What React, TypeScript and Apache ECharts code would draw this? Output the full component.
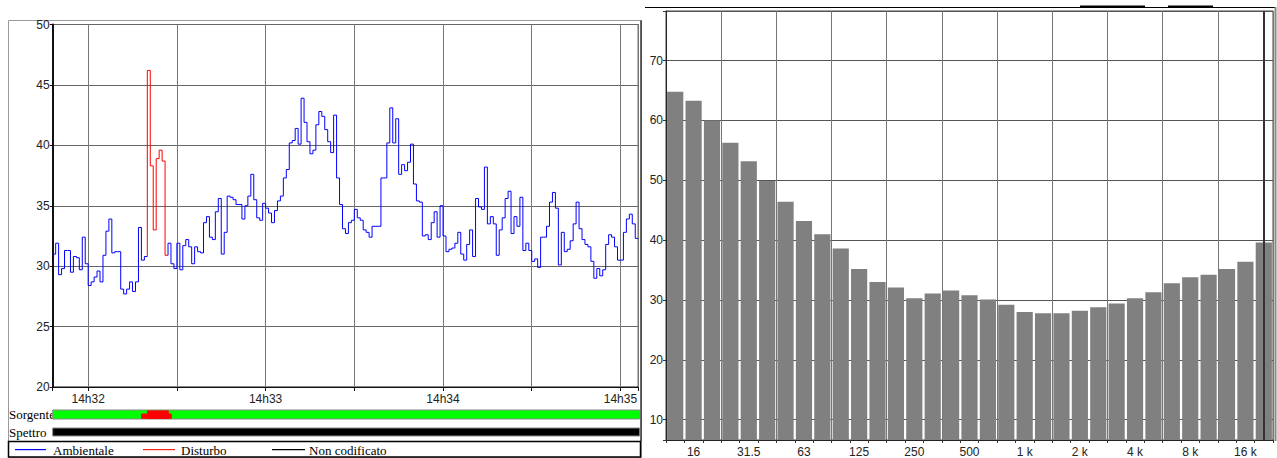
import React, { useEffect, useRef } from 'react';
import * as echarts from 'echarts';

// Time axis: seconds since 14:30:00 (one sample per second)
const START_SEC = 108; // 14:31:48
const END_SEC = 306;   // 14:35:06

// Ambient level, one value per second from 14:31:48 (null = coded as disturbance)
const ambientale: (number | null)[] = [
  31.0, 31.9, 29.3, 29.8, 31.3, 31.3, 29.5, 30.8, 30.7, 29.7,
  32.4, 30.2, 28.4, 28.7, 29.1, 29.6, 28.7, 30.9, 32.9, 33.9,
  31.1, 31.2, 31.2, 28.1, 27.7, 28.1, 28.7, 27.9, 28.7, 33.2,
  30.5, 30.8, null, null, null, null, null, null, null, 31.9,
  30.2, 29.8, 31.9, 29.7, 31.7, 32.2, 31.6, 30.2, 31.6, 31.2,
  31.1, 33.6, 34.1, 32.4, 32.2, 34.5, 35.6, 31.0, 32.8, 35.8,
  35.7, 35.5, 35.1, 35.1, 33.9, 35.0, 35.8, 37.6, 35.5, 34.0,
  33.8, 35.2, 34.8, 34.4, 33.6, 34.6, 35.4, 35.8, 37.3, 38.0,
  40.2, 40.4, 41.4, 40.1, 43.9, 41.9, 40.3, 39.3, 39.6, 41.7,
  42.8, 42.4, 41.3, 40.3, 39.4, 42.5, 37.3, 35.1, 33.1, 32.7,
  33.6, 33.8, 34.7, 34.0, 33.8, 33.0, 32.8, 32.4, 33.3, 33.3,
  33.3, 37.3, 37.3, 40.2, 43.1, 40.2, 42.2, 37.6, 38.4, 37.9,
  38.6, 40.1, 36.8, 35.4, 35.3, 32.5, 32.6, 32.2, 33.6, 34.5,
  32.4, 35.0, 32.5, 31.2, 31.4, 31.5, 31.9, 32.8, 31.0, 30.5,
  31.8, 33.0, 30.8, 35.6, 34.9, 34.7, 38.2, 33.5, 34.1, 33.5,
  30.9, 33.0, 34.0, 35.6, 36.2, 32.7, 34.1, 33.3, 35.7, 31.3,
  31.9, 31.3, 30.4, 30.6, 29.9, 32.4, 32.4, 33.3, 35.3, 36.1,
  34.8, 30.1, 32.8, 31.2, 31.4, 32.1, 33.5, 35.3, 33.1, 32.2,
  31.8, 31.6, 30.4, 29.0, 29.8, 29.2, 29.7, 31.8, 32.6, 32.4,
  31.6, 30.5, 30.5, 32.8, 33.9, 34.3, 33.5, 32.3,
];

// Disturbance level, one value per second, starting at sample index disturboStart
const disturboStart = 32;
const disturbo: number[] = [46.2, 38.3, 33.0, 38.9, 39.6, 38.7, 30.9];

// Source coding band: [start sec, end sec, code] (0 ambient, 1 disturbance low, 2 disturbance high)
const sorgente: number[][] = [
  [108, 306, 0],
  [138, 148, 1],
  [140, 147, 2],
];
// Spectrum band: [start sec, end sec]
const spettroBand: number[][] = [[108, 306]];

// 1/3 octave spectrum
const bands: string[] = [
  '12.5', '16', '20', '25', '31.5', '40', '50', '63', '80', '100', '125',
  '160', '200', '250', '315', '400', '500', '630', '800', '1 k', '1.25 k',
  '1.6 k', '2 k', '2.5 k', '3.15 k', '4 k', '5 k', '6.3 k', '8 k', '10 k',
  '12.5 k', '16 k', '20 k',
];
const spectrum: number[] = [
  64.8, 63.3, 60.0, 56.3, 53.2, 49.9, 46.4, 43.2, 41.0, 38.6, 35.2,
  33.0, 32.1, 30.3, 31.1, 31.6, 30.8, 30.1, 29.2, 28.0, 27.8,
  27.8, 28.2, 28.8, 29.4, 30.3, 31.3, 32.8, 33.8, 34.2, 35.2,
  36.4, 39.6,
];
const cursorBand = '20 k';

const SANS = '"Liberation Sans", Arial, sans-serif';
const SERIF = '"Liberation Serif", "Times New Roman", serif';

// Split ambient samples into contiguous runs, each a step polyline
function buildAmbientRuns(): number[][][] {
  const runs: number[][][] = [];
  let k = 0;
  while (k < ambientale.length) {
    if (ambientale[k] == null) { k++; continue; }
    const k0 = k;
    const pts: number[][] = [];
    const prevIdx = k0 - 1 - disturboStart;
    if (k0 > 0 && prevIdx >= 0 && prevIdx < disturbo.length) {
      pts.push([START_SEC + k0, disturbo[prevIdx]]);
    }
    let last = ambientale[k] as number;
    while (k < ambientale.length && ambientale[k] != null) {
      last = ambientale[k] as number;
      pts.push([START_SEC + k, last]);
      k++;
    }
    pts.push([START_SEC + k, last]);
    runs.push(pts);
  }
  return runs;
}

function buildDisturbo(): number[][] {
  const pts: number[][] = [];
  const prev = ambientale[disturboStart - 1];
  if (prev != null) pts.push([START_SEC + disturboStart, prev]);
  disturbo.forEach((v, i) => pts.push([START_SEC + disturboStart + i, v]));
  pts.push([START_SEC + disturboStart + disturbo.length, disturbo[disturbo.length - 1]]);
  return pts;
}

const sorgenteLayers: Record<number, { y0: number; y1: number; fill: string; stroke: string }> = {
  0: { y0: 0, y1: 1, fill: '#00ff00', stroke: '#8a8a8a' },
  1: { y0: 0.08, y1: 0.55, fill: '#ff0000', stroke: '#ff0000' },
  2: { y0: 0.08, y1: 0.9, fill: '#ff0000', stroke: '#ff0000' },
};

export default function App() {
  const ref = useRef<HTMLDivElement>(null);
  useEffect(() => {
    if (!ref.current) return;
    const chart = echarts.init(ref.current, undefined, { renderer: 'svg' });
    const ambientSeries = buildAmbientRuns().map((pts) => ({
      name: 'Ambientale', type: 'line', xAxisIndex: 0, yAxisIndex: 0, step: 'end',
      showSymbol: false, symbol: 'none', z: 3,
      lineStyle: { color: '#0000ff', width: 1 },
      data: pts,
    }));
    const option: any = {
      animation: false,
      backgroundColor: '#ffffff',
      grid: [
        { left: 52.7, top: 24.5, width: 585.5, height: 362.5, show: true, borderColor: '#111', borderWidth: 1 },
        { left: 666, top: 11, width: 607, height: 429, show: true, borderColor: '#444', borderWidth: 1 },
        { left: 52.7, top: 410, width: 587, height: 9 },
        { left: 52.7, top: 428, width: 587, height: 8 },
      ],
      xAxis: [
        {
          type: 'value', gridIndex: 0, min: START_SEC, max: END_SEC, splitNumber: 7,
          axisLine: { show: true, lineStyle: { color: '#111', width: 1 } },
          axisTick: { show: true, length: 4, lineStyle: { color: '#111' } },
          axisLabel: {
            color: '#222', fontSize: 12, fontFamily: SANS, margin: 6,
            formatter: (v: number) => (Math.abs(v % 60) < 1e-6 ? `14h${30 + Math.round(v / 60)}` : ''),
          },
          splitLine: { show: true, lineStyle: { color: '#777', width: 1 } },
        },
        {
          type: 'category', gridIndex: 1, data: bands, boundaryGap: true,
          axisLine: { show: true, lineStyle: { color: '#222', width: 1 } },
          axisTick: { show: true, length: 3, interval: 0, lineStyle: { color: '#333' } },
          axisLabel: {
            color: '#222', fontSize: 12, fontFamily: SANS, margin: 6,
            interval: (i: number) => i % 3 === 1,
          },
          splitLine: {
            show: true, interval: (i: number) => i % 3 === 0 && i > 0,
            lineStyle: { color: '#777', width: 1 },
          },
        },
        { type: 'value', gridIndex: 2, min: START_SEC, max: END_SEC, show: false },
        { type: 'value', gridIndex: 3, min: START_SEC, max: END_SEC, show: false },
      ],
      yAxis: [
        {
          type: 'value', gridIndex: 0, min: 20, max: 50, interval: 5,
          axisLine: { show: true, lineStyle: { color: '#111', width: 2 } },
          axisTick: { show: true, length: 3, lineStyle: { color: '#111' } },
          axisLabel: { color: '#222', fontSize: 12, fontFamily: SANS, margin: 3 },
          splitLine: { show: true, lineStyle: { color: '#666', width: 1 } },
        },
        {
          type: 'value', gridIndex: 1, min: 6.6, max: 78.3, splitNumber: 7,
          axisLine: { show: true, lineStyle: { color: '#222', width: 1 } },
          axisTick: { show: true, length: 3, lineStyle: { color: '#333' } },
          axisLabel: {
            color: '#222', fontSize: 12, fontFamily: SANS, margin: 3,
            formatter: (v: number) => (Math.abs(v - Math.round(v / 10) * 10) < 1e-6 ? String(Math.round(v)) : ''),
          },
          splitLine: { show: true, lineStyle: { color: '#555', width: 1 } },
        },
        { type: 'value', gridIndex: 2, min: 0, max: 1, show: false },
        { type: 'value', gridIndex: 3, min: 0, max: 1, show: false },
      ],
      series: [
        ...ambientSeries,
        {
          name: 'Disturbo', type: 'line', xAxisIndex: 0, yAxisIndex: 0, step: 'end',
          showSymbol: false, symbol: 'none', z: 3,
          lineStyle: { color: '#ff0000', width: 1 },
          data: buildDisturbo(),
        },
        {
          name: 'Spettro', type: 'bar', xAxisIndex: 1, yAxisIndex: 1,
          barCategoryGap: '12%',
          itemStyle: { color: '#808080' },
          data: spectrum,
          markLine: {
            silent: true, symbol: 'none', label: { show: false },
            lineStyle: { color: '#333', width: 2, type: 'solid' },
            data: [{ xAxis: cursorBand }],
          },
        },
        {
          name: 'Sorgente', type: 'custom', xAxisIndex: 2, yAxisIndex: 2, z: 10,
          data: sorgente,
          renderItem: (_p: any, api: any) => {
            const layer = sorgenteLayers[api.value(2)];
            const a = api.coord([api.value(0), layer.y0]);
            const b = api.coord([api.value(1), layer.y1]);
            return {
              type: 'rect',
              shape: { x: a[0], y: b[1], width: b[0] - a[0], height: a[1] - b[1] },
              style: { fill: layer.fill, stroke: layer.stroke, lineWidth: 1 },
            };
          },
        },
        {
          name: 'SpettroBand', type: 'custom', xAxisIndex: 3, yAxisIndex: 3, z: 10,
          data: spettroBand,
          renderItem: (_p: any, api: any) => {
            const a = api.coord([api.value(0), 0]);
            const b = api.coord([api.value(1), 1]);
            return {
              type: 'rect',
              shape: { x: a[0], y: b[1], width: b[0] - a[0], height: a[1] - b[1] },
              style: { fill: '#000000', stroke: '#8a8a8a', lineWidth: 1 },
            };
          },
        },
      ],
      graphic: [
        { type: 'rect', z: 0, shape: { x: 8.5, y: 20.5, width: 633, height: 437 }, style: { fill: 'none', stroke: '#9a9a9a', lineWidth: 1 } },
        { type: 'line', z: 0, shape: { x1: 641, y1: 20.5, x2: 641, y2: 441 }, style: { stroke: '#333', lineWidth: 1.5 } },
        { type: 'text', z: 0, x: 9, y: 414.5, style: { text: 'Sorgente', fontSize: 13, fontFamily: SERIF, fill: '#000', verticalAlign: 'middle' } },
        { type: 'text', z: 0, x: 9, y: 432, style: { text: 'Spettro', fontSize: 13, fontFamily: SERIF, fill: '#000', verticalAlign: 'middle' } },
        { type: 'rect', z: 0, shape: { x: 8.5, y: 441.5, width: 632, height: 15.5 }, style: { fill: '#fff', stroke: '#000', lineWidth: 1.5 } },
        { type: 'rect', z: 5, shape: { x: 15, y: 449, width: 31, height: 1.2 }, style: { fill: '#0000ff' } },
        { type: 'text', z: 5, x: 53, y: 450, style: { text: 'Ambientale', fontSize: 13, fontFamily: SERIF, fill: '#000', verticalAlign: 'middle' } },
        { type: 'rect', z: 5, shape: { x: 143, y: 449, width: 32, height: 1.2 }, style: { fill: '#ff2020' } },
        { type: 'text', z: 5, x: 181, y: 450, style: { text: 'Disturbo', fontSize: 13, fontFamily: SERIF, fill: '#000', verticalAlign: 'middle' } },
        { type: 'rect', z: 5, shape: { x: 272, y: 449, width: 33, height: 1.2 }, style: { fill: '#000000' } },
        { type: 'text', z: 5, x: 309, y: 450, style: { text: 'Non codificato', fontSize: 13, fontFamily: SERIF, fill: '#000', verticalAlign: 'middle' } },
        { type: 'line', z: 0, shape: { x1: 645, y1: 7.5, x2: 1276, y2: 7.5 }, style: { stroke: '#000', lineWidth: 1 } },
        { type: 'rect', z: 0, shape: { x: 1080, y: 5.5, width: 65, height: 2 }, style: { fill: '#000' } },
        { type: 'rect', z: 0, shape: { x: 1168, y: 5.5, width: 45, height: 2 }, style: { fill: '#000' } },
        { type: 'line', z: 0, shape: { x1: 1275.5, y1: 7, x2: 1275.5, y2: 441 }, style: { stroke: '#888', lineWidth: 2 } },
      ],
    };
    chart.setOption(option);
    return () => chart.dispose();
  }, []);
  return (
    <div
      ref={ref}
      style={{ position: 'fixed', left: 0, top: 0, width: 1277, height: 458, background: '#fff' }}
    />
  );
}
